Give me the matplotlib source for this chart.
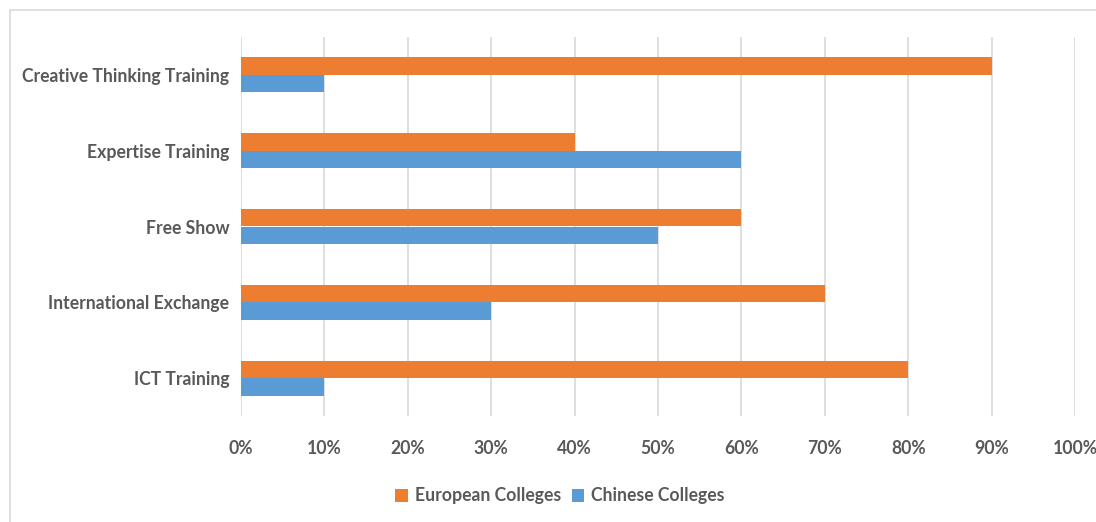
import matplotlib
matplotlib.use("Agg")
import matplotlib.pyplot as plt
import matplotlib.patches as mpatches
import numpy as np

categories = ["Creative Thinking Training", "Expertise Training", "Free Show",
              "International Exchange", "ICT Training"]
european = [90, 40, 60, 70, 80]
chinese = [10, 60, 50, 30, 10]
xticks = [0, 10, 20, 30, 40, 50, 60, 70, 80, 90, 100]

orange = "#ed7d31"
blue = "#5b9bd5"
gray_text = "#595959"

plt.rcParams['font.family'] = ['Lato', 'DejaVu Sans']
plt.rcParams['font.weight'] = 'bold'

fig = plt.figure(figsize=(10.96, 5.22), dpi=100)
ax = fig.add_axes([241/1096, 1 - 416/522, (1075 - 241)/1096, (416 - 37)/522])

# outer frame, cut off on the right and bottom
fig.patches.append(mpatches.Rectangle((10/1096, -0.05), 1.2, (512/522) + 0.05,
                                      transform=fig.transFigure, fill=False,
                                      edgecolor="#d9d9d9", linewidth=1.2))

y = np.arange(len(categories))
h = 0.23
ax.barh(y - h/2, european, height=h, color=orange, label="European Colleges", zorder=3)
ax.barh(y + h/2, chinese, height=h, color=blue, label="Chinese Colleges", zorder=3)

ax.set_ylim(len(categories) - 0.5, -0.5)
ax.set_xlim(0, 100)
ax.set_yticks(y)
ax.set_yticklabels(categories, fontsize=12.7, color=gray_text, fontweight='bold')
ax.set_xticks(xticks)
ax.set_xticklabels(['{}%'.format(t) for t in xticks], fontsize=12.7, color=gray_text,
                   fontweight='bold')
ax.tick_params(axis='both', length=0)
ax.tick_params(axis='x', pad=17)
ax.tick_params(axis='y', pad=8.5)
ax.grid(axis='x', color="#d9d9d9", linewidth=1.2, zorder=0)
for s in ax.spines.values():
    s.set_visible(False)

fig.legend(loc='center', bbox_to_anchor=(560/1096, 1 - 496/522), ncol=2,
           frameon=False, fontsize=12.7, handlelength=0.7, handleheight=0.7,
           handletextpad=0.4, columnspacing=0.6, labelcolor=gray_text)

fig.savefig("out.png", dpi=100)
